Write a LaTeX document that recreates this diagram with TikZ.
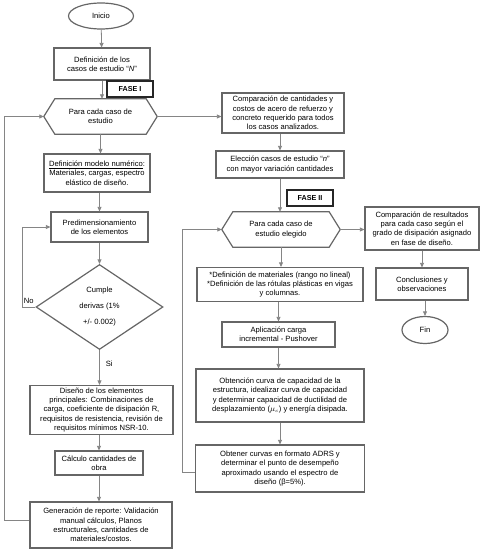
\documentclass[tikz,border=0pt]{standalone}
\usepackage{fontspec}
\setmainfont{Liberation Sans}
\usetikzlibrary{shapes.geometric,arrows.meta}
\begin{document}
\begin{tikzpicture}[x=1pt,y=-1pt,
  every node/.style={font=\fontsize{7.6}{9.3}\selectfont, align=center, inner sep=0pt, text=black},
  box/.style={draw=black!60, line width=1.2pt, fill=white},
  oval/.style={ellipse, draw=black!60, line width=1.2pt, fill=white},
  phase/.style={draw=black!85, line width=1.6pt, fill=white, font=\fontsize{7.2}{9}\selectfont\bfseries},
  hexb/.style={draw=black!60, line width=1.2pt},
  conn/.style={draw=black!48, line width=0.8pt, -{Triangle[length=4.5pt,width=4pt]}},
  lbl/.style={font=\fontsize{7.6}{9.3}\selectfont}
]
\useasboundingbox (0,0) rectangle (493,555);

% ---------- left column ----------
\node[oval, minimum width=65, minimum height=26] (inicio) at (101,16) {Inicio};
\node[box, minimum width=96, minimum height=32] (defN) at (102,64) {Definición de los\\casos de estudio “\textit{N}”};
\node[phase, minimum width=46, minimum height=16] (fase1) at (130,89) {FASE I};
\node[minimum width=113, minimum height=35] (hex1) at (100.5,116.5) {Para cada caso de\\estudio};
\node[box, minimum width=106, minimum height=38] (modelo) at (97,173) {\underline{Definición modelo numérico}:\\Materiales, cargas, espectro\\elástico de diseño.};
\node[box, minimum width=97, minimum height=30] (predim) at (99.5,227) {Predimensionamiento\\de los elementos};
\node[diamond, draw=black!60, line width=1.2pt, fill=white, minimum width=127, minimum height=85, aspect=1.5, font=\fontsize{7.6}{16}\selectfont] (dia) at (99.5,307) {Cumple\\derivas (1\%\\+/- 0.002)};
\node[box, minimum width=143, minimum height=49] (diseno) at (101.5,410) {Diseño de los elementos\\principales: Combinaciones de\\carga, coeficiente de disipación R,\\requisitos de resistencia, revisión de\\requisitos mínimos NSR-10.};
\node[box, minimum width=88, minimum height=24] (calc) at (99,463) {Cálculo cantidades de\\obra};
\node[box, minimum width=142, minimum height=46] (gen) at (101,525) {Generación de reporte: Validación\\manual cálculos, Planos\\estructurales, cantidades de\\materiales/costos.};

% ---------- right column ----------
\node[box, minimum width=122, minimum height=40] (comp) at (283,113) {Comparación de cantidades y\\costos de acero de refuerzo y\\concreto requerido para todos\\los casos analizados.};
\node[box, minimum width=128, minimum height=27] (elec) at (280,164.5) {Elección casos de estudio “\textit{n}”\\con mayor variación cantidades};
\node[phase, minimum width=46, minimum height=16] (fase2) at (310,198) {FASE II};
\node[minimum width=118, minimum height=35] (hex2) at (281,229.5) {Para cada caso de\\estudio elegido};
\node[box, minimum width=166, minimum height=34] (defmat) at (280,284.5) {*Definición de materiales (rango no lineal)\\*Definición de las rótulas plásticas en vigas\\y columnas.};
\node[box, minimum width=113, minimum height=25] (aplic) at (278.5,334.5) {Aplicación carga\\incremental - Pushover};
\node[box, minimum width=168, minimum height=53] (obtc) at (280,395.5) {Obtención curva de capacidad de la\\estructura, idealizar curva de capacidad\\y determinar capacidad de ductilidad de\\desplazamiento ($\mu_c$) y energía disipada.};
\node[box, minimum width=169, minimum height=47] (obtr) at (280,468.5) {Obtener curvas en formato ADRS y\\determinar el punto de desempeño\\aproximado usando el espectro de\\diseño (β=5\%).};

\node[box, minimum width=114, minimum height=43] (compres) at (422,228.5) {Comparación de resultados\\para cada caso según el\\grado de disipación asignado\\en fase de diseño.};
\node[box, minimum width=92, minimum height=32] (concl) at (422,284) {Conclusiones y\\observaciones};
\node[oval, minimum width=46, minimum height=27] (fin) at (425,330) {Fin};

% hexagon outlines
\foreach \h in {hex1,hex2}{
  \draw[hexb] ([xshift=11pt]\h.north west) -- ([xshift=-11pt]\h.north east) -- (\h.east)
    -- ([xshift=-11pt]\h.south east) -- ([xshift=11pt]\h.south west) -- (\h.west) -- cycle;
}

% ---------- connectors ----------
\draw[conn] (inicio) -- (defN);
\draw[conn] (defN.south) -- (defN.south |- hex1.north);
\draw[conn] (hex1.east) -- (hex1.east -| comp.west);
\draw[conn] (hex1.south) -- (hex1.south |- modelo.north);
\draw[conn] (modelo.south -| predim.north) -- (predim.north);
\draw[conn] (predim) -- (dia);
\draw[conn] (dia.south) -- (dia.south |- diseno.north) node[lbl, pos=0.4, right=6pt] {Si};
\draw[conn] (dia.west) -- (22,307) node[lbl, midway, above=3pt] {No} |- (predim.west);
\draw[conn] (diseno.south -| calc.north) -- (calc.north);
\draw[conn] (calc.south) -- (calc.south |- gen.north);
\draw[conn] ([yshift=5pt]gen.west) -- (4,520) |- (hex1.west);

\draw[conn] (comp.south -| elec.north) -- (elec.north);
\draw[conn] (elec.south) -- (elec.south |- hex2.north);
\draw[conn] (hex2.east) -- (hex2.east -| compres.west);
\draw[conn] (compres) -- (concl);
\draw[conn] (concl.south -| fin.north) -- (fin.north);
\draw[conn] (hex2.south) -- (hex2.south |- defmat.north);
\draw[conn] (defmat.south -| aplic.north) -- (aplic.north);
\draw[conn] (aplic.south) -- (aplic.south |- obtc.north);
\draw[conn] (obtc.south) -- (obtc.south |- obtr.north);
\draw[conn] ([yshift=-3.5pt]obtr.west) -- (182,472) |- (hex2.west);
\end{tikzpicture}
\end{document}
